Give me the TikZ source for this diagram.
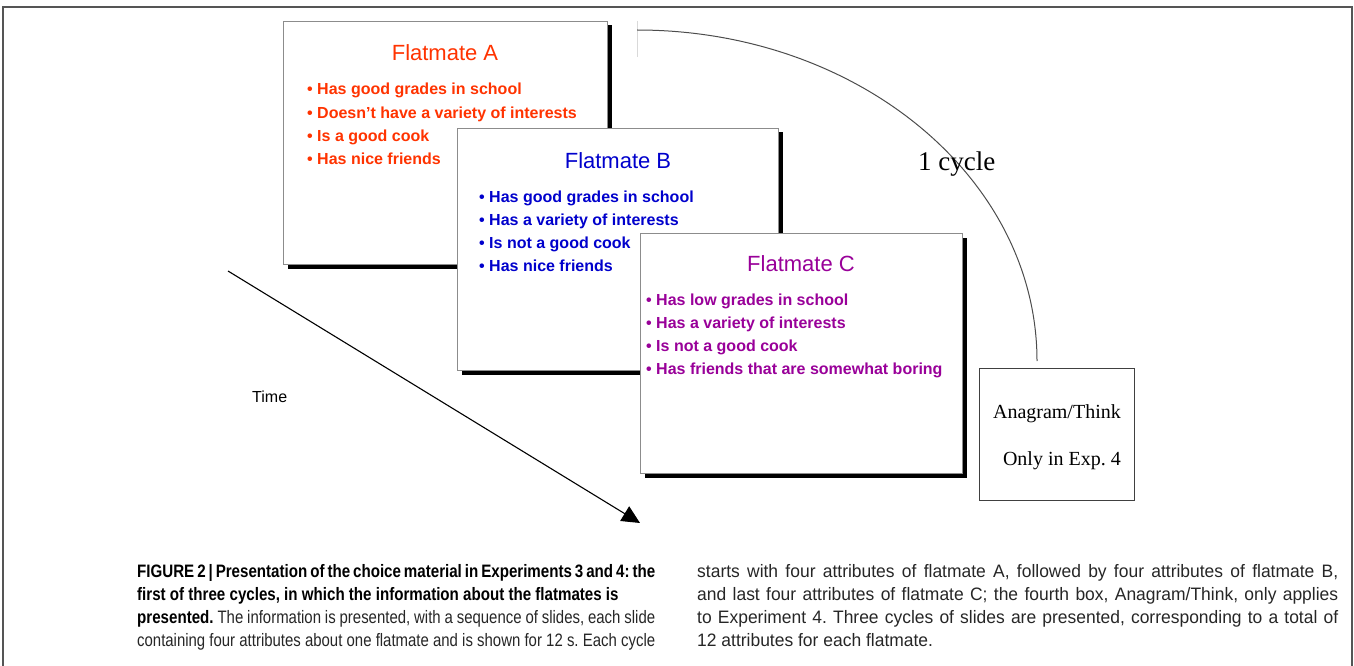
\documentclass[tikz,border=0pt]{standalone}
\usepackage{fontspec}
\setmainfont{Liberation Serif}
\newfontfamily\slidefont{Liberation Sans}
\newfontfamily\capleft[FakeStretch=0.83, BoldFeatures={FakeStretch=0.84}]{Liberation Sans}
\newfontfamily\capright[FakeStretch=0.97]{Liberation Sans}
\usetikzlibrary{arrows.meta, shadows}
\definecolor{mateA}{RGB}{255, 51, 0}
\definecolor{mateB}{RGB}{0, 0, 204}
\definecolor{mateC}{RGB}{153, 0, 153}
\definecolor{framegray}{RGB}{85, 85, 85}
\newcommand{\capjust}[2]{\hbox to #1{#2}}
\frenchspacing

\begin{document}
\begin{tikzpicture}[x=1pt, y=-1pt,
  slide/.style={draw=black!45, line width=1pt, fill=white, inner sep=0pt, anchor=north west,
    drop shadow={shadow xshift=4pt, shadow yshift=-4pt, fill=black, opacity=1}},
  slidetitle/.style={font=\slidefont\fontsize{22}{26}\selectfont, anchor=base, inner sep=0pt},
  slideitem/.style={font=\slidefont\bfseries\fontsize{16}{19}\selectfont, anchor=base west, inner sep=0pt},
  serifnote/.style={font=\fontsize{20}{24}\selectfont, anchor=base east, inner sep=0pt},
  capleftline/.style={font=\capleft\fontsize{18}{23}\selectfont, anchor=base west, inner sep=0pt, text=black!85},
  caprightline/.style={font=\capright\fontsize{18}{23}\selectfont, anchor=base west, inner sep=0pt, text=black!85}]
  \useasboundingbox (0,0) rectangle (1354,666);

  % Outer frame
  \draw[framegray, line width=1.2pt] (3,666) -- (3,7) -- (1352,7) -- (1352,666);

  % Slide A
  \node[slide, minimum width=324pt, minimum height=243pt] (slideA) at (283,21) {};
  \node[slidetitle, text=mateA] (titleA) at (445,61) {Flatmate A};
  \node[slideitem, text=mateA] (itemA1) at (307,95) {\textbullet\ Has good grades in school};
  \node[slideitem, text=mateA] (itemA2) at (307,118.2) {\textbullet\ Doesn’t have a variety of interests};
  \node[slideitem, text=mateA] (itemA3) at (307,141.4) {\textbullet\ Is a good cook};
  \node[slideitem, text=mateA] (itemA4) at (307,164.6) {\textbullet\ Has nice friends};

  % Slide B
  \node[slide, minimum width=321pt, minimum height=242pt] (slideB) at (457,128) {};
  \node[slidetitle, text=mateB] (titleB) at (618,168) {Flatmate B};
  \node[slideitem, text=mateB] (itemB1) at (479,202) {\textbullet\ Has good grades in school};
  \node[slideitem, text=mateB] (itemB2) at (479,225.2) {\textbullet\ Has a variety of interests};
  \node[slideitem, text=mateB] (itemB3) at (479,248.4) {\textbullet\ Is not a good cook};
  \node[slideitem, text=mateB] (itemB4) at (479,271.6) {\textbullet\ Has nice friends};

  % Slide C
  \node[slide, minimum width=322pt, minimum height=240pt] (slideC) at (640,233) {};
  \node[slidetitle, text=mateC] (titleC) at (801,271) {Flatmate C};
  \node[slideitem, text=mateC] (itemC1) at (646,305) {\textbullet\ Has low grades in school};
  \node[slideitem, text=mateC] (itemC2) at (646,328.2) {\textbullet\ Has a variety of interests};
  \node[slideitem, text=mateC] (itemC3) at (646,351.4) {\textbullet\ Is not a good cook};
  \node[slideitem, text=mateC] (itemC4) at (646,374.6) {\textbullet\ Has friends that are somewhat boring};

  % Cycle arc
  \coordinate (markTop) at (637,21);
  \coordinate (markBot) at (637,57);
  \draw[black!15, line width=0.8pt] (markTop) -- (markBot);
  \coordinate (cycStart) at (637,30);
  \coordinate (cycEnd) at (1037,361);
  \draw[black!70, line width=1pt] (cycStart) .. controls +(221,0) and +(0,-183) .. (cycEnd);
  \node[font=\fontsize{27}{30}\selectfont, anchor=base west, inner sep=0pt] (cycleLabel) at (918,170) {1 cycle};

  % Anagram box
  \node[draw=black!75, line width=1pt, inner sep=0pt, anchor=north west, minimum width=155pt, minimum height=132pt] (anagram) at (979,368) {};
  \node[serifnote] (anaText) at (1121,418) {Anagram/Think};
  \node[serifnote] (onlyText) at (1121,465) {Only in Exp. 4};

  % Time arrow
  \coordinate (timeStart) at (228,271);
  \coordinate (timeEnd) at (640,523);
  \draw[line width=1.1pt, -{Triangle[length=18pt, width=17pt]}] (timeStart) -- (timeEnd);
  \node[font=\slidefont\fontsize{16}{19}\selectfont, anchor=base west, inner sep=0pt] (timeLabel) at (252,402) {Time};

  % Caption
  \node[capleftline] (capL1) at (137,577) {\capjust{518pt}{\bfseries\color{black}FIGURE 2 | Presentation of the choice material in Experiments 3 and 4: the}};
  \node[capleftline] (capL2) at (137,600) {\bfseries\color{black}first of three cycles, in which the information about the flatmates is};
  \node[capleftline] (capL3) at (137,623) {\capjust{518pt}{{\bfseries\color{black}presented.} The information is presented, with a sequence of slides, each slide}};
  \node[capleftline] (capL4) at (137,646) {\capjust{518pt}{containing four attributes about one flatmate and is shown for 12 s. Each cycle}};
  \node[caprightline] (capR1) at (697,577) {\capjust{641pt}{starts with four attributes of flatmate A, followed by four attributes of flatmate B,}};
  \node[caprightline] (capR2) at (697,600) {\capjust{641pt}{and last four attributes of flatmate C; the fourth box, Anagram/Think, only applies}};
  \node[caprightline] (capR3) at (697,623) {\capjust{641pt}{to Experiment 4. Three cycles of slides are presented, corresponding to a total of}};
  \node[caprightline] (capR4) at (697,646) {12 attributes for each flatmate.};
\end{tikzpicture}
\end{document}
